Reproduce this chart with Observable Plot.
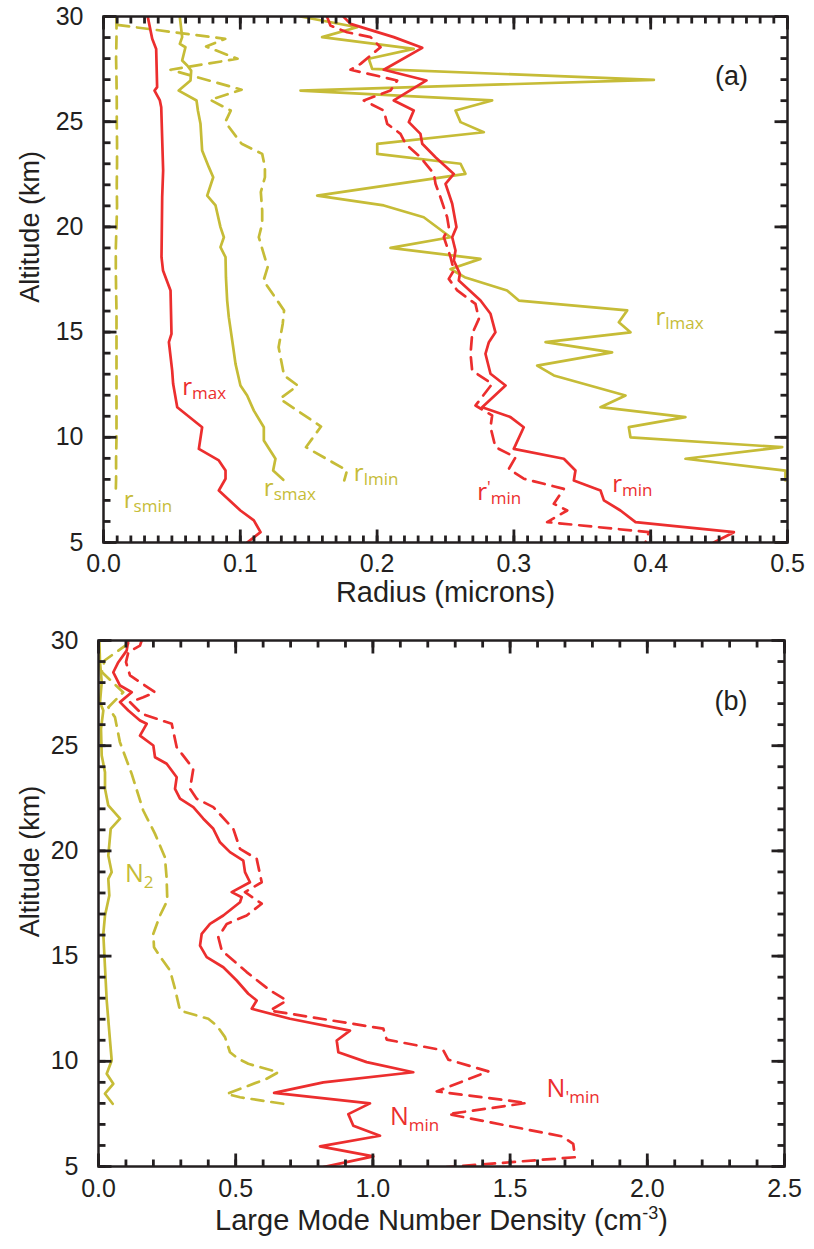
<!DOCTYPE html>
<html>
<head>
<meta charset="utf-8">
<script src="https://cdn.jsdelivr.net/npm/d3@7"></script>
<script src="https://cdn.jsdelivr.net/npm/@observablehq/plot@0.6"></script>
<style>
  html, body { margin: 0; padding: 0; background: #fff; }
  #chart svg { display: block; }
</style>
</head>
<body>
<div id="chart"></div>
<script>
// ---------------- DATA ----------------
// each series: [altitude (km), value]
// Panel (a): radius (microns)
const rSmin = [[30,0.0095],[29,0.0095],[28,0.0092],[27,0.0095],[26,0.0097],[25,0.0097],[24,0.0099],[23,0.0099],[22,0.0097],[21,0.0099],[20,0.0095],[19,0.0090],[18,0.0090],[17,0.0092],[16,0.0095],[15,0.0095],[14,0.0095],[13,0.0095],[12,0.0095],[11,0.0095],[10,0.0095],[9,0.0092],[8,0.0092],[7.5,0.0090]];
const rLmin = [[29.6,0.010],[28.94,0.089],[28.57,0.075],[27.99,0.098],[27.47,0.049],[26.52,0.101],[26.04,0.078],[25.53,0.093],[24.98,0.089],[23.95,0.101],[23.47,0.116],[22.84,0.118],[22.36,0.118],[21.65,0.115],[20.78,0.116],[20.15,0.116],[19.51,0.1135],[18.09,0.120],[17.45,0.117],[16.03,0.132],[15.39,0.131],[14.28,0.128],[12.94,0.132],[12.46,0.142],[11.83,0.129],[10.51,0.159],[9.53,0.148],[8.42,0.178],[7.95,0.176]];
const rMax = [[29.97,0.0324],[28.94,0.0356],[28.46,0.0385],[26.64,0.0392],[26.48,0.0373],[26.01,0.0412],[25.69,0.0422],[22.68,0.0436],[21.41,0.0429],[18.56,0.0424],[17.93,0.0435],[16.98,0.049],[14.92,0.0497],[14.52,0.0478],[13.17,0.0502],[12.54,0.0509],[11.43,0.0539],[10.48,0.0721],[9.45,0.0697],[8.9,0.0843],[8.42,0.0892],[8.03,0.0892],[7.47,0.0843],[6.52,0.1001],[6.05,0.1099],[5.49,0.1148],[5.0,0.105]];
const rSmax = [[29.97,0.0558],[29.02,0.0575],[28.7,0.0558],[28.54,0.0599],[27.91,0.0575],[27.67,0.0612],[27.43,0.0641],[26.96,0.0636],[26.48,0.055],[26.01,0.068],[25.53,0.069],[24.9,0.0709],[23.63,0.0721],[22.84,0.077],[22.36,0.0802],[21.49,0.0758],[21.02,0.0819],[19.99,0.0855],[19.51,0.088],[19.04,0.0855],[18.56,0.0892],[17.61,0.0895],[16.5,0.0904],[15.71,0.0916],[14.28,0.0948],[13.49,0.0965],[12.46,0.1001],[11.99,0.105],[11.27,0.1099],[10.48,0.1172],[9.85,0.1172],[8.98,0.1257],[8.42,0.124],[7.98,0.1314]];
const rMin = [[29.97,0.1757],[29.65,0.1806],[29.02,0.2122],[28.51,0.233],[27.47,0.2049],[26.96,0.2361],[26.01,0.2122],[25.53,0.2268],[24.98,0.2232],[24.42,0.2317],[23.95,0.233],[23.31,0.2427],[22.52,0.2561],[22.05,0.25],[21.1,0.2549],[19.99,0.258],[19.51,0.2549],[18.88,0.2573],[18.4,0.2561],[17.77,0.2605],[17.45,0.2597],[16.5,0.2756],[15.87,0.2829],[14.99,0.2865],[14.52,0.2817],[13.97,0.2792],[13.02,0.2829],[12.46,0.2939],[11.43,0.2768],[10.96,0.2975],[10.48,0.3072],[9.45,0.2999],[8.98,0.3365],[8.42,0.345],[7.95,0.3438],[7.47,0.3633],[7.0,0.3658],[6.52,0.3779],[5.97,0.3889],[5.49,0.4608],[5.0,0.4461]];
const rMinPrime = [[29.97,0.1635],[29.57,0.1659],[29.25,0.1781],[29.02,0.1952],[28.54,0.2025],[27.75,0.1879],[27.47,0.1806],[26.96,0.2147],[26.48,0.2098],[26.01,0.1903],[25.53,0.2049],[24.9,0.2074],[24.42,0.2171],[23.95,0.2208],[23.31,0.2317],[22.52,0.2415],[22.05,0.2427],[21.41,0.2463],[20.46,0.2512],[19.99,0.2524],[19.51,0.2488],[18.56,0.2537],[17.93,0.2561],[17.53,0.2524],[16.98,0.2586],[16.34,0.2719],[15.63,0.2744],[14.92,0.2695],[13.97,0.2683],[13.17,0.2695],[12.54,0.2841],[11.51,0.2719],[11.04,0.2841],[10.48,0.2829],[9.53,0.2865],[9.05,0.3012],[8.5,0.2963],[8.03,0.3072],[7.55,0.3365],[6.84,0.3292],[6.52,0.339],[5.97,0.3243],[5.49,0.3986],[5.0,0.3962]];
const rLmax = [[30.0,0.144],[29.49,0.1854],[29.02,0.1598],[28.46,0.2268],[27.99,0.1939],[27.51,0.1964],[26.99,0.4023],[26.48,0.144],[26.01,0.2841],[25.53,0.2573],[24.98,0.261],[24.5,0.278],[23.95,0.2001],[23.47,0.2001],[23.0,0.261],[22.52,0.2646],[21.49,0.1562],[21.02,0.2049],[20.46,0.2341],[19.51,0.2537],[19.0,0.2098],[18.48,0.2756],[18.0,0.2537],[17.61,0.264],[16.98,0.295],[16.5,0.3036],[16.03,0.3828],[15.47,0.3767],[14.99,0.3852],[14.52,0.3231],[14.04,0.3718],[13.41,0.317],[12.94,0.3292],[11.99,0.3816],[11.43,0.3633],[10.96,0.4254],[10.48,0.384],[10.0,0.3852],[9.53,0.4961],[8.98,0.4254],[8.42,0.4985],[7.95,0.4985]];

// Panel (b): large mode number density (cm^-3)
const n2 = [[30,0.003],[28.97,0.0055],[28.02,0.0117],[27.07,0.0055],[26.67,0.0175],[25.8,0.0091],[24.53,0.0117],[23.74,0.0237],[22.95,0.0237],[22.16,0.0357],[21.53,0.0784],[21.05,0.0445],[19.78,0.0357],[18.99,0.0481],[18.67,0.0357],[17.88,0.0394],[16.93,0.0237],[16.06,0.0175],[14.47,0.0237],[12.89,0.0299],[10.99,0.0419],[10.04,0.0481],[9.41,0.0299],[8.93,0.0539],[8.46,0.0237],[7.98,0.0517]];
const n2Dashed = [[29.85,0.108],[29.05,0.022],[28.5,0.012],[27.54,0.09],[26.83,0.036],[26.35,0.06],[25.17,0.078],[23.66,0.121],[21.92,0.163],[20.81,0.206],[19.7,0.242],[18.75,0.248],[17.64,0.2508],[16.93,0.2241],[16.06,0.1997],[15.42,0.2023],[14.87,0.2303],[14.32,0.2606],[13.45,0.2788],[12.41,0.297],[12.18,0.3579],[12.02,0.4002],[11.7,0.4308],[11.15,0.461],[10.43,0.4792],[10.12,0.5096],[9.88,0.5459],[9.48,0.6553],[9.17,0.6129],[8.45,0.4672],[8.29,0.5157],[7.98,0.6735]];
const nMin = [[30,0.1087],[29.52,0.1026],[28.97,0.0723],[28.49,0.054],[27.86,0.0784],[27.54,0.121],[27.07,0.0784],[26.67,0.1087],[26.2,0.1512],[26.04,0.1756],[25.48,0.1512],[25.01,0.1998],[24.45,0.2059],[24.14,0.2485],[23.5,0.285],[22.95,0.2788],[22.48,0.297],[22.08,0.3455],[21.53,0.382],[21.05,0.4184],[20.41,0.4428],[19.94,0.4792],[19.54,0.5277],[18.99,0.5339],[18.51,0.5521],[18.04,0.4854],[17.8,0.5219],[17.56,0.5157],[16.93,0.4548],[16.53,0.4063],[16.06,0.3761],[15.5,0.3699],[14.95,0.3943],[14.47,0.4548],[13.84,0.5036],[13.21,0.5459],[12.89,0.5765],[12.5,0.5583],[12.02,0.6979],[11.46,0.9165],[10.99,0.8681],[10.43,0.8741],[9.96,0.9774],[9.48,1.1472],[9.0,0.8193],[8.5,0.64],[8.0,0.9894],[7.49,0.9104],[6.94,0.9286],[6.46,1.0259],[5.96,0.8072],[5.48,1.0015],[4.97,0.8193]];
const nMinPrime = [[30,0.1573],[29.76,0.1512],[29.44,0.1087],[28.97,0.1002],[28.34,0.1148],[27.54,0.2059],[27.3,0.1633],[27.07,0.1148],[26.52,0.1573],[26.04,0.2668],[24.93,0.285],[23.9,0.3455],[22.95,0.3335],[22.48,0.3578],[22.08,0.4184],[21.05,0.4913],[20.1,0.5157],[19.62,0.5765],[18.51,0.5948],[18.04,0.5339],[17.49,0.5948],[16.93,0.54],[16.53,0.4672],[15.9,0.4366],[15.27,0.449],[14.24,0.54],[13.37,0.625],[12.89,0.6858],[12.41,0.625],[11.55,1.038],[11.03,1.0503],[10.52,1.2566],[10.08,1.2748],[9.52,1.4206],[8.57,1.2325],[8.02,1.5605],[7.49,1.2748],[6.43,1.69],[6.08,1.73],[5.44,1.7365],[4.97,1.2689]];

// tick values
const altMajor = [5, 10, 15, 20, 25, 30];
const radiusMajor = [0, 0.1, 0.2, 0.3, 0.4, 0.5];
const densityMajor = [0, 0.5, 1.0, 1.5, 2.0, 2.5];

// curve labels (anchor in data units: x value, altitude)
const labelsA = [
  {x: 0.0148, y: 6.62, base: "r", sub: "smin", color: "yel"},
  {x: 0.1172, y: 7.19, base: "r", sub: "smax", color: "yel"},
  {x: 0.183, y: 7.91, base: "r", sub: "lmin", color: "yel"},
  {x: 0.0575, y: 12.03, base: "r", sub: "max", color: "red"},
  {x: 0.2732, y: 7.04, base: "r", sup: "'", sub: "min", color: "red"},
  {x: 0.3719, y: 7.39, base: "r", sub: "min", color: "red"},
  {x: 0.4035, y: 15.35, base: "r", sub: "lmax", color: "yel"}
];
const labelsB = [
  {x: 0.0966, y: 18.51, base: "N", sub: "2", color: "yel"},
  {x: 1.062, y: 6.95, base: "N", sub: "min", color: "red"},
  {x: 1.633, y: 8.29, base: "N", sub: "'min", color: "red"}
];

// ---------------- STYLE ----------------
const RED = "#ec2e2e", YEL = "#c6bc37", INK = "#231f20";
const COLORS = {red: RED, yel: YEL};
const AXIS_FONT = "'Liberation Sans', Arial, Helvetica, sans-serif";
const LABEL_FONT = "'Open Sans', 'Noto Sans', sans-serif";
const XTITLE_B = "Large Mode Number Density (cm-3)";

function panel(cfg) {
  const {width, height, mt, mb, ml, mr} = cfg;
  const [x0, x1] = cfg.xDomain;
  const ph = height - mt - mb, pw = width - ml - mr;
  const kmPerPx = 25 / ph, xPerPx = (x1 - x0) / pw;
  const marks = [];
  cfg.series.forEach(s => {
    const o = {x: "v", y: "alt", stroke: s.color, strokeWidth: 2.7, clip: true};
    if (s.dash) o.strokeDasharray = "12,8";
    marks.push(Plot.line(s.data.map(([alt, v]) => ({alt, v})), o));
  });
  // inward ticks on all four sides, as Plot link marks in data coordinates
  const tickRows = [];
  for (const [vals, len] of [[cfg.xMinor, 7], [cfg.xMajor, 13]]) {
    for (const v of vals) {
      tickRows.push({xa: v, xb: v, ya: 5, yb: 5 + len * kmPerPx});
      tickRows.push({xa: v, xb: v, ya: 30, yb: 30 - len * kmPerPx});
    }
  }
  for (const [vals, len] of [[cfg.yMinor, 7], [cfg.yMajor, 13]]) {
    for (const v of vals) {
      tickRows.push({xa: x0, xb: x0 + len * xPerPx, ya: v, yb: v});
      tickRows.push({xa: x1, xb: x1 - len * xPerPx, ya: v, yb: v});
    }
  }
  marks.push(Plot.link(tickRows, {x1: "xa", x2: "xb", y1: "ya", y2: "yb", stroke: INK, strokeWidth: 2.8}));
  marks.push(Plot.frame({stroke: INK, strokeWidth: 2.5}));
  marks.push(Plot.axisX({ticks: cfg.xMajor, tickFormat: d => d.toFixed(1), tickSize: 0, tickPadding: cfg.xPad, fontSize: 25, label: null}));
  marks.push(Plot.axisY({ticks: cfg.yMajor, tickFormat: d => String(d), tickSize: 0, tickPadding: 20, fontSize: 25, label: null}));
  // curve labels
  cfg.labels.forEach((lab, i) => {
    marks.push(Plot.text([lab], {x: "x", y: "y", text: () => "§" + i, fill: COLORS[lab.color],
      fontSize: cfg.labelSize, fontFamily: LABEL_FONT, textAnchor: "start", lineAnchor: "bottom"}));
  });
  // panel tag
  marks.push(Plot.text([cfg.tag], {x: () => cfg.tagPos[0], y: () => cfg.tagPos[1], text: d => d,
    fontSize: 27, textAnchor: "middle", lineAnchor: "bottom", fill: INK}));
  // axis titles
  marks.push(Plot.text([cfg.xTitle], {frameAnchor: "bottom", dy: cfg.xTitleDy, text: d => d, fontSize: 29, fill: INK}));
  marks.push(Plot.text([cfg.yTitle], {x: () => x0, y: () => cfg.yTitleAlt, dx: 30 - ml, rotate: -90,
    text: d => d, fontSize: 27, textAnchor: "middle", fill: INK}));

  const svg = Plot.plot({
    width, height, marginTop: mt, marginBottom: mb, marginLeft: ml, marginRight: mr,
    x: {domain: cfg.xDomain},
    y: {domain: [5, 30]},
    style: {fontFamily: AXIS_FONT, color: INK, background: "#fff", overflow: "visible"},
    marks
  });

  const NS = "http://www.w3.org/2000/svg";
  const addSpan = (t, str, size, dy) => {
    const s = document.createElementNS(NS, "tspan");
    s.textContent = str;
    if (size) s.setAttribute("font-size", size);
    if (dy) s.setAttribute("dy", dy);
    t.appendChild(s);
  };
  svg.querySelectorAll("text").forEach(t => {
    const m = /^§(\d+)$/.exec(t.textContent);
    if (m) {
      const lab = cfg.labels[+m[1]];
      t.textContent = "";
      addSpan(t, lab.base);
      let cur = 0;
      if (lab.sup) { addSpan(t, lab.sup, cfg.subSize, -7); cur = -7; }
      addSpan(t, lab.sub, cfg.subSize, cfg.subDy - cur);
    } else if (t.textContent === XTITLE_B) {
      t.textContent = "";
      addSpan(t, "Large Mode Number Density (cm");
      addSpan(t, "-3", 18, -11);
      addSpan(t, ")", null, 11);
    }
  });
  return svg;
}

const range = (n, step, start = 0) => Array.from({length: n + 1}, (_, i) => +(start + i * step).toFixed(4));

const chart = document.getElementById("chart");
chart.appendChild(panel({
  width: 814, height: 620, mt: 16, mb: 78, ml: 103, mr: 27,
  xDomain: [0, 0.5], xMajor: radiusMajor, xMinor: range(50, 0.01), yMajor: altMajor, yMinor: range(25, 1, 5),
  series: [
    {data: rSmin, color: YEL, dash: true},
    {data: rLmin, color: YEL, dash: true},
    {data: rSmax, color: YEL},
    {data: rLmax, color: YEL},
    {data: rMax, color: RED},
    {data: rMinPrime, color: RED, dash: true},
    {data: rMin, color: RED}
  ],
  labels: labelsA, labelSize: 24, subSize: 17, subDy: 4,
  tag: "(a)", tagPos: [0.459, 26.74],
  xPad: 12, xTitle: "Radius (microns)", xTitleDy: 59,
  yTitle: "Altitude (km)", yTitleAlt: 20
}));
chart.appendChild(panel({
  width: 814, height: 629, mt: 20, mb: 83, ml: 98, mr: 30,
  xDomain: [0, 2.5], xMajor: densityMajor, xMinor: range(25, 0.1), yMajor: altMajor, yMinor: range(25, 1, 5),
  series: [
    {data: n2, color: YEL},
    {data: n2Dashed, color: YEL, dash: true},
    {data: nMinPrime, color: RED, dash: true},
    {data: nMin, color: RED}
  ],
  labels: labelsB, labelSize: 25, subSize: 17, subDy: 6,
  tag: "(b)", tagPos: [2.305, 26.7],
  xPad: 13, xTitle: XTITLE_B, xTitleDy: 63,
  yTitle: "Altitude (km)", yTitleAlt: 19.5
}));
</script>
</body>
</html>
